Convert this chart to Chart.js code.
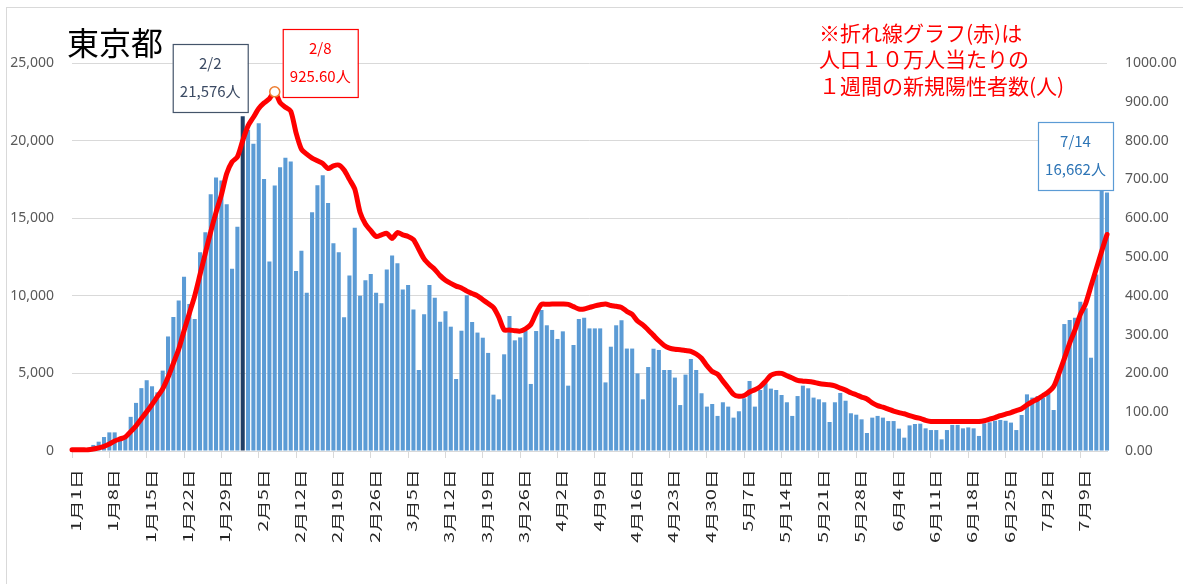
<!DOCTYPE html>
<html lang="ja">
<head>
<meta charset="utf-8">
<title>東京都</title>
<script src="https://cdn.jsdelivr.net/npm/chart.js@4.4.1/dist/chart.umd.min.js"></script>
<style>
  html, body { margin: 0; padding: 0; background: #fff; }
  #wrap { width: 1183px; height: 584px; }
</style>
</head>
<body>
<div id="wrap"><canvas id="myChart" width="1183" height="584"></canvas></div>
<script>
// daily new cases, 1/1 .. 7/14
var cases = [
  80, 85, 100, 150, 390, 600, 900, 1200, 1200, 870,
  960, 2200, 3100, 4050, 4560, 4170, 3780, 5180, 7380, 8640,
  9700, 11230, 9470, 8500, 12810, 14090, 16540, 17630, 17430, 15900,
  11750, 14450, 21576, 20680, 19800, 21120, 17530, 12210, 17110, 18290,
  18890, 18660, 11600, 12900, 10200, 15380, 17120, 17760, 15980, 13380,
  12800, 8610, 11300, 14390, 10010, 11000, 11400, 10200, 9520, 11700,
  12590, 12090, 10400, 10700, 9110, 5220, 8810, 10700, 9880, 8330,
  9000, 8010, 4640, 7750, 10030, 8310, 7630, 7300, 6320, 3630,
  3330, 6230, 8700, 7130, 7320, 7750, 4320, 7730, 9090, 8100,
  7800, 7220, 7710, 4210, 6830, 8510, 8590, 7900, 7900, 7900,
  4420, 6720, 8100, 8420, 6600, 6600, 5000, 3330, 5410, 6590,
  6510, 5220, 5220, 4730, 2960, 4920, 5930, 5220, 3720, 2860,
  3030, 2260, 3140, 2860, 2150, 2560, 3400, 4510, 2860, 3930,
  4360, 4020, 3930, 3610, 3140, 2260, 3540, 4210, 4040, 3440,
  3330, 3140, 1870, 3140, 3740, 3240, 2430, 2340, 2040, 1160,
  2150, 2260, 2150, 1930, 1930, 1440, 860, 1650, 1740, 1760,
  1460, 1350, 1350, 750, 1350, 1680, 1680, 1460, 1520, 1460,
  970, 1780, 1850, 1950, 2000, 1950, 1830, 1350, 2320, 3650,
  3440, 3540, 3440, 3670, 2640, 5110, 8180, 8440, 8590, 9620,
  9200, 6010, 11380, 16880, 16662
];

// weekly new cases per 100k people (red line, right axis)
var per100k = [
  3, 3, 3, 3, 5, 8, 12, 18, 26, 31,
  36, 50, 65, 83, 101, 120, 140, 160, 190, 226,
  262, 310, 355, 400, 455, 510, 565, 615, 660, 715,
  745, 758, 800, 838, 860, 883, 897, 908, 925.6, 898,
  886, 876, 820, 778, 765, 755, 748, 741, 728, 735,
  737, 724, 700, 675, 615, 585, 568, 553, 557, 561,
  548, 563, 557, 553, 545, 520, 495, 480, 468, 452,
  440, 432, 425, 420, 412, 406, 400, 390, 380, 370,
  345, 312, 312, 310, 309, 315, 326, 355, 378, 378,
  379, 379, 379, 378, 372, 366, 366, 370, 374, 377,
  379, 375, 373, 370, 360, 352, 335, 325, 312, 298,
  284, 272, 265, 262, 261, 259, 257, 250, 239, 220,
  205, 198, 180, 163, 146, 141, 143, 152, 158, 166,
  180, 195, 200, 200, 194, 188, 182, 180, 179, 177,
  174, 172, 171, 168, 162, 157, 150, 145, 139, 134,
  124, 117, 113, 108, 103, 99, 96, 91, 87, 84,
  79, 76, 76, 76, 76, 76, 76, 76, 76, 76,
  76, 78, 82, 86, 91, 95, 99, 104, 109, 119,
  127, 134, 143, 152, 166, 200, 238, 278, 312, 352,
  380, 425, 470, 515, 558
];

var yTicks = [0, 5000, 10000, 15000, 20000, 25000];
var y1Ticks = [0, 100, 200, 300, 400, 500, 600, 700, 800, 900, 1000];
var noteLines = ['※折れ線グラフ(赤)は', '人口１０万人当たりの', '１週間の新規陽性者数(人)'];

// categories: 1月1日 ...
var monthDays = [31, 28, 31, 30, 31, 30, 31];
var dates = [];
for (var m = 0; m < monthDays.length; m++) {
  for (var d = 1; d <= monthDays[m]; d++) {
    if (dates.length < cases.length) dates.push((m + 1) + '月' + d + '日');
  }
}

var peakBar = 32;   // 2/2
var peakRate = 38;  // 2/8
var lastDay = cases.length - 1;

var BLUE = '#5B9BD5';
var NAVY = '#213F66';
var RED = '#FF0000';
var GRID = '#D9D9D9';
var CJK = '"Noto Sans CJK JP", "Noto Sans", sans-serif';

function callout(ctx, x, y, w, h, color, border, line1, line2) {
  ctx.fillStyle = '#fff';
  ctx.fillRect(x, y, w, h);
  ctx.strokeStyle = border;
  ctx.lineWidth = 1.2;
  ctx.strokeRect(x + 0.5, y + 0.5, w, h);
  ctx.fillStyle = color;
  ctx.font = '15px ' + CJK;
  ctx.textAlign = 'center';
  ctx.textBaseline = 'middle';
  ctx.fillText(line1, x + w / 2, y + h * 0.28);
  ctx.fillText(line2, x + w / 2, y + h * 0.70);
}

var decorations = {
  id: 'decorations',
  beforeDraw: function (chart) {
    var ctx = chart.ctx;
    ctx.save();
    ctx.fillStyle = '#fff';
    ctx.fillRect(0, 0, chart.width, chart.height);
    ctx.strokeStyle = GRID;
    ctx.lineWidth = 1;
    ctx.strokeRect(6.5, 7.5, 1300, 700);
    ctx.restore();
  },
  afterDraw: function (chart) {
    var ctx = chart.ctx;
    var xs = chart.scales.x;
    ctx.save();

    // title
    ctx.fillStyle = '#000';
    ctx.font = '32px ' + CJK;
    ctx.textAlign = 'left';
    ctx.textBaseline = 'middle';
    ctx.fillText('東京都', 67, 43);

    // red note
    ctx.fillStyle = RED;
    ctx.font = '21px ' + CJK;
    noteLines.forEach(function (t, i) {
      ctx.fillText(t, 819, 33 + i * 26.5);
    });

    // x tick labels (every 7th day)
    ctx.fillStyle = '#262626';
    ctx.font = '18px ' + CJK;
    ctx.textAlign = 'right';
    ctx.textBaseline = 'middle';
    xs.ticks.forEach(function (t) {
      var px = xs.getPixelForValue(t.value) + 4;
      ctx.save();
      ctx.translate(px, 469);
      ctx.rotate(-Math.PI / 2);
      ctx.scale(1.12, 0.72);
      ctx.fillText(dates[t.value], 0, 0);
      ctx.restore();
    });

    // callouts
    var xb = xs.getPixelForValue(peakBar);
    callout(ctx, xb - 70, 44, 75, 68, '#3B4A63', '#44546A', '2/2', cases[peakBar].toLocaleString('en-US') + '人');
    var xr = xs.getPixelForValue(peakRate);
    callout(ctx, xr + 8, 29, 75, 68, RED, RED, '2/8', per100k[peakRate].toFixed(2) + '人');
    var xl = xs.getPixelForValue(lastDay);
    callout(ctx, xl - 69, 122, 75, 68, '#2E75B6', BLUE, '7/14', cases[lastDay].toLocaleString('en-US') + '人');

    ctx.restore();
  }
};

Chart.defaults.font.family = CJK;
Chart.defaults.color = '#595959';

var ctx = document.getElementById('myChart').getContext('2d');
var myChart = new Chart(ctx, {
  data: {
    labels: dates,
    datasets: [{
      type: 'line',
      label: '人口10万人当たり1週間の新規陽性者数',
      data: per100k,
      yAxisID: 'y1',
      borderColor: RED,
      borderWidth: 5,
      borderCapStyle: 'round',
      borderJoinStyle: 'round',
      tension: 0.25,
      pointRadius: function (c) { return c.dataIndex === peakRate ? 5 : 0; },
      pointBackgroundColor: '#fff',
      pointBorderColor: '#ED7D31',
      pointBorderWidth: 1.5,
      clip: false,
      order: 1
    }, {
      type: 'bar',
      label: '新規陽性者数',
      data: cases,
      yAxisID: 'y',
      backgroundColor: function (c) { return c.dataIndex === peakBar ? NAVY : BLUE; },
      categoryPercentage: 1,
      barPercentage: 0.76,
      clip: false,
      order: 2
    }]
  },
  options: {
    responsive: false,
    animation: false,
    devicePixelRatio: 1,
    layout: { padding: { top: 63, left: 0, right: 0, bottom: 0 } },
    plugins: {
      legend: { display: false },
      tooltip: { enabled: false }
    },
    scales: {
      x: {
        type: 'category',
        offset: false,
        afterBuildTicks: function (s) {
          s.ticks = s.ticks.filter(function (t) { return t.value % 7 === 0; });
        },
        afterFit: function (s) { s.height = 133; },
        ticks: { display: false, autoSkip: false },
        grid: { display: true, drawOnChartArea: false, drawTicks: true, tickLength: 7, color: GRID, offset: false },
        border: { display: true, color: GRID }
      },
      y: {
        position: 'left',
        min: 0,
        max: 25000,
        afterBuildTicks: function (s) {
          s.ticks = yTicks.map(function (v) { return { value: v }; });
        },
        afterFit: function (s) { s.width = 72; },
        ticks: {
          padding: 18,
          color: '#595959',
          font: { family: '"Noto Sans", sans-serif', size: 14 },
          callback: function (v) { return Number(v).toLocaleString('en-US'); }
        },
        grid: { color: GRID, drawTicks: false },
        border: { display: false }
      },
      y1: {
        position: 'right',
        min: 0,
        max: 1000,
        afterBuildTicks: function (s) {
          s.ticks = y1Ticks.map(function (v) { return { value: v }; });
        },
        afterFit: function (s) { s.width = 76; },
        ticks: {
          padding: 18,
          color: '#595959',
          font: { family: '"Noto Sans", sans-serif', size: 14 },
          callback: function (v) { return Number(v).toFixed(2); }
        },
        grid: { drawOnChartArea: false, drawTicks: false },
        border: { display: false }
      }
    }
  },
  plugins: [decorations]
});
</script>
</body>
</html>
